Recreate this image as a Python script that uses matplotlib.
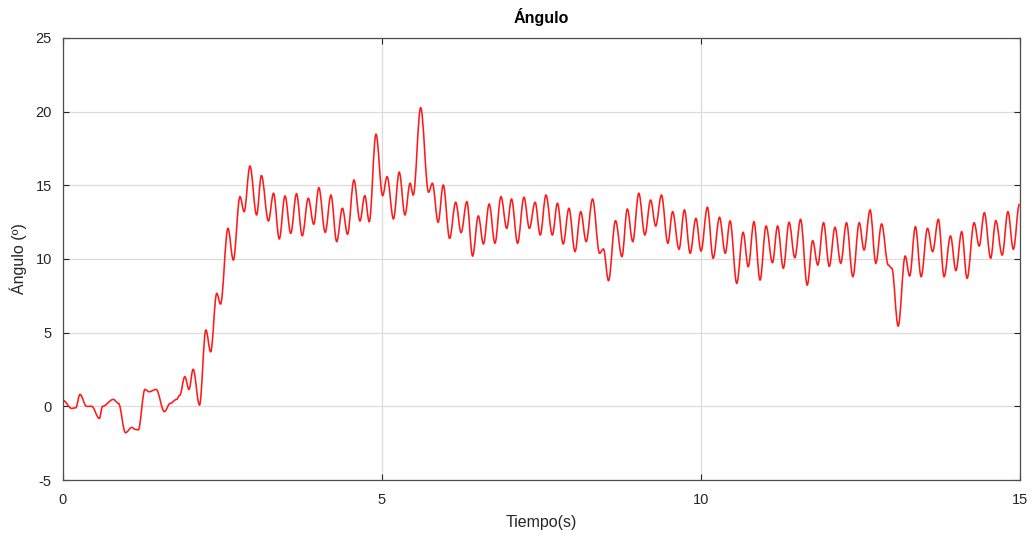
import numpy as np
import matplotlib
matplotlib.use('Agg')
import matplotlib.pyplot as plt
from matplotlib.path import Path
from matplotlib.patches import PathPatch

# peaks / troughs (time in s, angle in degrees)
tiempo = [0.00, 0.136, 0.20, 0.266, 0.37, 0.45, 0.57, 0.62, 0.79, 0.87,
          0.98, 1.08, 1.13, 1.18, 1.285, 1.35, 1.46, 1.59, 1.68, 1.78,
          1.83, 1.91, 1.975, 2.04, 2.14, 2.24, 2.315, 2.41, 2.47, 2.586,
          2.67, 2.774, 2.84, 2.93, 3.035, 3.11, 3.22, 3.30, 3.39, 3.48,
          3.57, 3.66, 3.75, 3.845, 3.93, 4.01, 4.11, 4.20, 4.29, 4.38,
          4.46, 4.56, 4.655, 4.73, 4.80, 4.906, 5.01, 5.08, 5.18, 5.27,
          5.36, 5.44, 5.49, 5.606, 5.73, 5.79, 5.88, 5.96, 6.06, 6.155,
          6.24, 6.33, 6.42, 6.51, 6.59, 6.68, 6.77, 6.865, 6.955, 7.03,
          7.125, 7.225, 7.31, 7.40, 7.48, 7.57, 7.67, 7.75, 7.84, 7.93,
          8.025, 8.115, 8.20, 8.30, 8.41, 8.47, 8.55, 8.66, 8.76, 8.845,
          8.93, 9.025, 9.12, 9.21, 9.29, 9.38, 9.48, 9.555, 9.655, 9.74,
          9.83, 9.92, 10.0, 10.10, 10.19, 10.29, 10.38, 10.455, 10.56, 10.66,
          10.74, 10.83, 10.925, 11.02, 11.12, 11.20, 11.29, 11.38, 11.47, 11.56,
          11.665, 11.75, 11.83, 11.92, 12.01, 12.10, 12.19, 12.28, 12.38, 12.48,
          12.555, 12.65, 12.74, 12.83, 12.935, 12.99, 13.09, 13.20, 13.27, 13.36,
          13.45, 13.55, 13.63, 13.72, 13.81, 13.91, 13.995, 14.085, 14.17, 14.28,
          14.36, 14.44, 14.54, 14.62, 14.72, 14.81, 14.895, 14.99]
angulo = [0.4, -0.14, -0.1, 0.81, 0.0, 0.0, -0.82, 0.0, 0.47, 0.2,
          -1.79, -1.43, -1.56, -1.6, 1.15, 0.99, 1.15, -0.36, 0.2, 0.47,
          0.75, 2.01, 1.15, 2.51, 0.09, 5.18, 3.7, 7.67, 6.94, 12.08,
          9.93, 14.23, 13.21, 16.31, 12.99, 15.66, 12.58, 14.46, 11.36, 14.28,
          11.74, 14.43, 11.58, 14.12, 12.36, 14.84, 11.81, 14.34, 11.18, 13.44,
          11.68, 15.36, 12.58, 14.30, 12.53, 18.47, 14.30, 15.59, 12.72, 15.89,
          12.99, 15.14, 14.34, 20.27, 14.53, 15.14, 12.49, 15.02, 11.4, 13.85,
          11.79, 13.89, 10.2, 12.92, 11.02, 13.73, 11.07, 14.23, 12.08, 14.07,
          11.07, 14.19, 12.08, 13.85, 11.63, 14.34, 11.63, 13.78, 11.02, 13.44,
          10.5, 13.21, 11.18, 14.07, 10.39, 10.68, 8.53, 12.6, 10.16, 13.39,
          11.18, 14.46, 11.63, 14.0, 12.24, 14.34, 11.07, 13.21, 10.66, 13.33,
          10.39, 12.76, 10.54, 13.51, 10.05, 12.83, 10.39, 12.58, 8.35, 11.81,
          9.48, 12.53, 8.57, 12.24, 9.75, 12.24, 9.37, 12.49, 10.09, 12.69,
          8.23, 11.24, 9.59, 12.46, 9.5, 12.15, 9.71, 12.46, 8.8, 12.46,
          10.61, 13.33, 9.71, 12.38, 9.59, 9.37, 5.45, 10.2, 8.85, 12.19,
          8.8, 12.08, 10.5, 12.69, 8.8, 11.56, 9.21, 11.85, 8.69, 12.46,
          10.88, 13.14, 10.05, 12.6, 10.27, 13.21, 10.66, 13.73]

xticks = [0, 5, 10, 15]
yticks = [-5, 0, 5, 10, 15, 20, 25]

plt.rcParams['font.family'] = ['Liberation Sans', 'DejaVu Sans']
plt.rcParams['axes.unicode_minus'] = False
txt_col = '#262626'


def smooth_path(x, y, k=0.36):
    """curve through the extrema, flat tangent at each one"""
    verts = [(x[0], y[0])]
    codes = [Path.MOVETO]
    for i in range(1, len(x)):
        dx = x[i] - x[i - 1]
        verts += [(x[i - 1] + k * dx, y[i - 1]), (x[i] - k * dx, y[i]), (x[i], y[i])]
        codes += [Path.CURVE4] * 3
    return Path(verts, codes)


fig = plt.figure(figsize=(10.34, 5.38), dpi=100)
ax = fig.add_axes([0.0609, 0.1078, 0.9256, 0.8216])

ax.add_patch(PathPatch(smooth_path(np.array(tiempo), np.array(angulo)),
                       fill=False, edgecolor='#ff1a1a', linewidth=1.15))

ax.set_xlim(0, 15)
ax.set_ylim(-5, 25)
ax.set_xticks(xticks)
ax.set_yticks(yticks)
ax.grid(True, color='#dcdcdc', linewidth=0.9)
ax.set_axisbelow(True)
ax.tick_params(direction='in', length=4, top=True, right=True,
               colors=txt_col, labelsize=10.5)
ax.tick_params(axis='x', pad=9)
ax.tick_params(axis='y', pad=8)
for s in ax.spines.values():
    s.set_color('#4d4d4d')
    s.set_linewidth(0.9)

ax.set_title('Ángulo', fontsize=11.5, fontweight='bold', color='#000000', pad=11)
ax.set_xlabel('Tiempo(s)', fontsize=11.5, color=txt_col, labelpad=6)
ax.set_ylabel('Ángulo (º)', fontsize=11.5, color=txt_col, labelpad=6)

fig.savefig('out.png', dpi=100)
